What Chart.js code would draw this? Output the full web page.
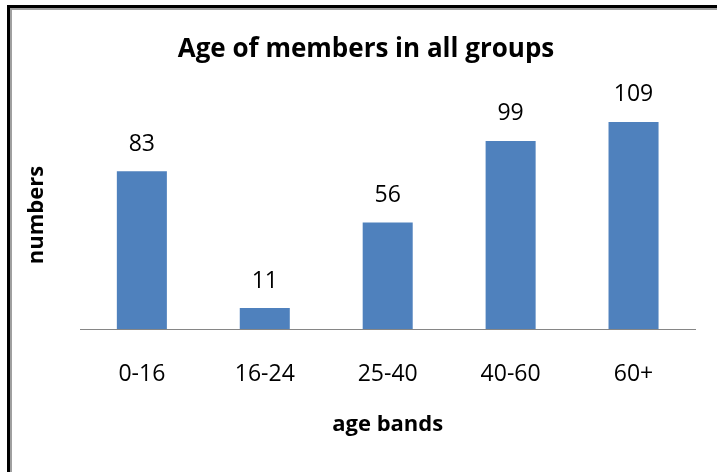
<!DOCTYPE html>
<html>
<head>
<meta charset="utf-8">
<script src="https://cdn.jsdelivr.net/npm/chart.js@4.4.0/dist/chart.umd.min.js"></script>
<style>
html,body{margin:0;padding:0;background:#fff;}
#wrap{position:relative;width:717px;height:472px;overflow:hidden;background:#fff;}
#c{position:absolute;left:0;top:0;}
#frameBlack{position:absolute;left:7px;top:5px;right:-10px;bottom:-10px;border-left:3px solid #000;border-top:3px solid #000;}
#frameGray{position:absolute;left:10px;top:8px;right:-10px;bottom:-10px;border-left:2px solid #a0a0a0;border-top:2px solid #a0a0a0;}
</style>
</head>
<body>
<div id="wrap">
  <canvas id="c" width="717" height="472"></canvas>
  <div id="frameBlack"></div>
  <div id="frameGray"></div>
</div>
<script>
const categories = ['0-16', '16-24', '25-40', '40-60', '60+'];
const memberCounts = [83, 11, 56, 99, 109];
const chartTitle = 'Age of members in all groups';
const xAxisTitle = 'age bands';
const yAxisTitle = 'numbers';

const FONT = '"Open Sans", "DejaVu Sans", sans-serif';

const valueLabels = {
  id: 'valueLabels',
  afterDatasetsDraw(chart) {
    const ctx = chart.ctx;
    const meta = chart.getDatasetMeta(0);
    const values = chart.data.datasets[0].data;
    ctx.save();
    ctx.font = '23px ' + FONT;
    ctx.fillStyle = '#000';
    ctx.textAlign = 'center';
    ctx.textBaseline = 'middle';
    meta.data.forEach((bar, i) => {
      ctx.fillText(String(values[i]), bar.x, bar.y - 27);
    });
    ctx.restore();
  }
};

new Chart(document.getElementById('c'), {
  type: 'bar',
  data: {
    labels: categories,
    datasets: [{
      data: memberCounts,
      backgroundColor: '#4F81BD',
      borderWidth: 0,
      categoryPercentage: 1.0,
      barPercentage: 0.407
    }]
  },
  options: {
    responsive: false,
    animation: false,
    devicePixelRatio: 1,
    layout: { padding: { left: 37, right: 22, top: 0, bottom: 0 } },
    plugins: {
      legend: { display: false },
      tooltip: { enabled: false },
      title: {
        display: true,
        text: chartTitle,
        color: '#000',
        font: { family: FONT, size: 26, weight: 'bold', lineHeight: 1.2 },
        padding: { top: 34.4, bottom: 35.4 }
      }
    },
    scales: {
      x: {
        grid: { display: false, drawTicks: false },
        border: { display: true, color: '#868686', width: 1 },
        ticks: { color: '#000', font: { family: FONT, size: 23, lineHeight: 1.2 }, padding: 31.2, maxRotation: 0 },
        title: {
          display: true,
          text: xAxisTitle,
          color: '#000',
          font: { family: FONT, size: 22, weight: 'bold', lineHeight: 1.2 },
          padding: { top: -7.2, bottom: 33.8 }
        }
      },
      y: {
        min: 0,
        max: 120,
        grid: { display: false, drawTicks: false },
        border: { display: false },
        ticks: { display: false },
        title: {
          display: true,
          text: yAxisTitle,
          color: '#000',
          font: { family: FONT, size: 22, weight: 'bold', lineHeight: 1.2 },
          padding: { top: -13, bottom: 30 }
        }
      }
    }
  },
  plugins: [valueLabels]
});
</script>
</body>
</html>
